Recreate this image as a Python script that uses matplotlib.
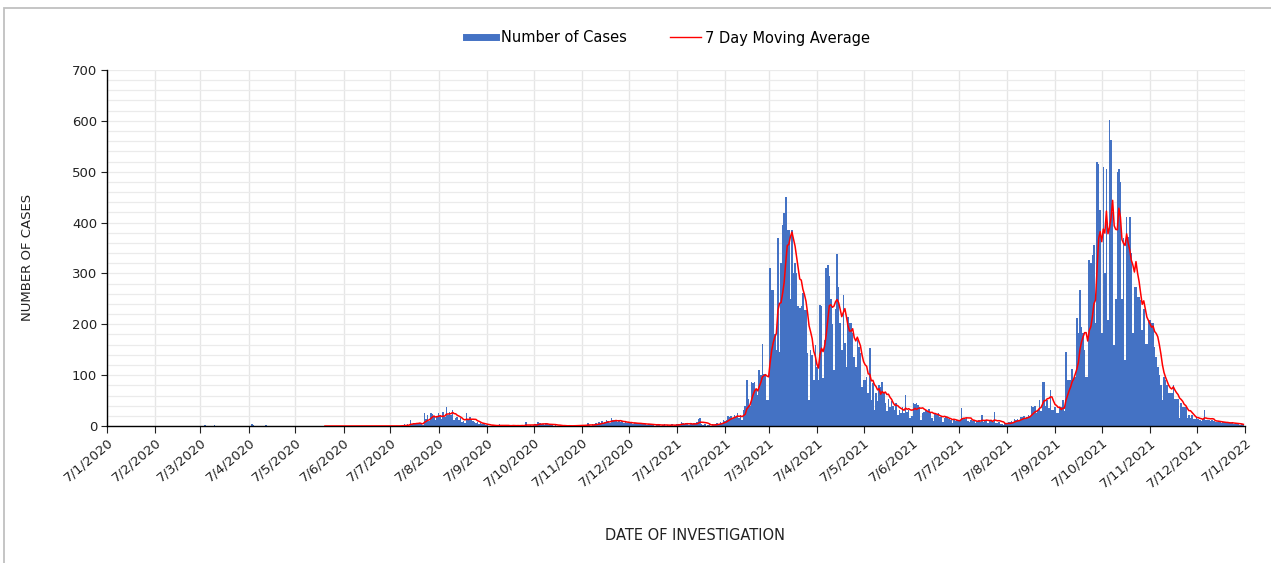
import matplotlib
matplotlib.use("Agg")
import matplotlib.pyplot as plt
import matplotlib.dates as mdates
from matplotlib.lines import Line2D
from matplotlib.patches import Rectangle
from matplotlib.ticker import MultipleLocator, FuncFormatter
import numpy as np
import pandas as pd

# daily cases, one list per month (7th of month -> 6th of next month)
start_date = "2020-01-07"
ma_start = "2020-05-26"

m2020_01 = [0, 0, 0, 0, 0, 0, 0, 0, 0, 0, 0, 0, 0, 0, 0, 0, 0, 0, 0, 0, 0, 0, 0, 0, 0, 0, 0, 0, 0, 0, 0]
m2020_02 = [0, 0, 0, 0, 0, 0, 0, 0, 0, 0, 0, 0, 0, 0, 0, 0, 0, 0, 0, 0, 0, 0, 0, 0, 0, 0, 0, 0, 0]
m2020_03 = [0, 0, 0, 2, 0, 0, 0, 0, 0, 2, 0, 0, 0, 0, 0, 0, 0, 0, 0, 0, 0, 0, 0, 1, 0, 0, 0, 0, 0, 0, 0]
m2020_04 = [0, 0, 3, 2, 0, 0, 0, 0, 0, 0, 0, 2, 0, 0, 0, 0, 0, 0, 0, 0, 0, 0, 0, 0, 0, 0, 0, 0, 0, 0]
m2020_05 = [0, 0, 0, 0, 0, 0, 0, 0, 0, 0, 0, 0, 0, 0, 0, 0, 0, 0, 0, 0, 0, 0, 0, 0, 0, 0, 0, 0, 0, 0, 0]
m2020_06 = [0, 0, 0, 0, 0, 0, 0, 0, 0, 0, 0, 0, 0, 0, 1, 0, 0, 0, 0, 0, 0, 0, 0, 0, 0, 0, 0, 1, 0, 0]
m2020_07 = [0, 0, 0, 0, 1, 0, 0, 1, 0, 3, 2, 4, 1, 12, 4, 5, 3, 6, 5, 6, 4, 2, 26, 14, 22, 10, 25, 24, 17, 12, 20]
m2020_08 = [25, 20, 14, 28, 18, 38, 22, 28, 22, 31, 12, 15, 18, 12, 16, 8, 10, 6, 25, 12, 18, 14, 9, 8, 5, 7, 4, 6, 3, 4, 2]
m2020_09 = [2, 1, 1, 0, 2, 1, 0, 1, 3, 1, 0, 1, 2, 0, 1, 0, 1, 2, 0, 1, 1, 0, 1, 2, 0, 8, 1, 0, 2, 1]
m2020_10 = [2, 4, 3, 8, 5, 3, 4, 2, 5, 3, 2, 4, 3, 1, 2, 1, 0, 1, 1, 0, 1, 0, 0, 1, 0, 1, 0, 2, 1, 2, 1]
m2020_11 = [2, 1, 2, 1, 5, 2, 1, 3, 2, 5, 4, 7, 6, 9, 5, 8, 12, 10, 6, 16, 11, 9, 12, 8, 11, 7, 9, 6, 8, 5]
m2020_12 = [7, 5, 8, 4, 6, 5, 3, 6, 4, 5, 3, 4, 2, 3, 4, 2, 3, 1, 2, 3, 2, 1, 2, 3, 1, 2, 1, 2, 3, 1, 2]
m2021_01 = [3, 4, 2, 8, 5, 3, 6, 4, 2, 5, 3, 6, 4, 7, 13, 15, 4, 2, 3, 1, 2, 3, 1, 4, 2, 3, 5, 4, 8, 6, 12]
m2021_02 = [10, 12, 20, 18, 20, 15, 22, 18, 25, 15, 22, 12, 31, 40, 90, 54, 40, 87, 85, 86, 71, 61, 110, 100,
            162, 103, 100, 51]
m2021_03 = [51, 310, 267, 267, 180, 149, 369, 146, 320, 395, 418, 451, 385, 385, 250, 385, 300, 320, 300, 235,
            233, 235, 261, 228, 228, 143, 51, 150, 140, 90, 160]
m2021_04 = [117, 90, 238, 235, 94, 169, 310, 317, 294, 250, 200, 110, 230, 339, 274, 202, 150, 258, 163, 117,
            215, 202, 202, 182, 136, 117, 169, 156, 143, 77]
m2021_05 = [90, 90, 97, 64, 153, 51, 84, 31, 64, 50, 81, 77, 87, 64, 45, 30, 54, 38, 50, 40, 31, 45, 22, 31,
            25, 38, 25, 61, 28, 31, 15]
m2021_06 = [20, 45, 43, 46, 41, 38, 12, 25, 27, 31, 30, 33, 28, 15, 10, 25, 22, 26, 18, 19, 8, 15, 18, 16,
            14, 12, 6, 12, 10, 11]
m2021_07 = [10, 12, 35, 15, 14, 16, 10, 8, 12, 9, 11, 6, 10, 12, 8, 22, 8, 10, 12, 6, 9, 11, 7, 28, 6, 5, 8,
            4, 3, 2, 5]
m2021_08 = [6, 8, 7, 9, 8, 13, 12, 14, 10, 18, 17, 19, 15, 18, 22, 20, 39, 38, 40, 25, 31, 51, 30, 87, 86,
            40, 51, 35, 71, 31, 31]
m2021_09 = [38, 25, 25, 38, 38, 51, 30, 146, 90, 90, 90, 113, 90, 97, 212, 182, 267, 195, 182, 150, 97, 97,
            326, 320, 336, 356, 202, 520, 516, 425]
m2021_10 = [182, 510, 300, 505, 208, 601, 562, 420, 160, 250, 500, 505, 480, 250, 370, 130, 410, 372, 411,
            340, 182, 274, 274, 254, 254, 248, 189, 230, 162, 162, 208]
m2021_11 = [208, 202, 202, 156, 136, 117, 100, 80, 51, 97, 90, 80, 64, 64, 64, 80, 54, 54, 54, 15, 45, 38, 38,
            38, 15, 22, 15, 22, 13, 13]
m2021_12 = [18, 13, 12, 10, 14, 31, 12, 11, 12, 9, 12, 10, 8, 7, 9, 8, 6, 8, 7, 5, 6, 5, 6, 8, 4, 5, 3, 4, 2,
            3, 2]

months = [m2020_01, m2020_02, m2020_03, m2020_04, m2020_05, m2020_06, m2020_07, m2020_08, m2020_09,
          m2020_10, m2020_11, m2020_12, m2021_01, m2021_02, m2021_03, m2021_04, m2021_05, m2021_06,
          m2021_07, m2021_08, m2021_09, m2021_10, m2021_11, m2021_12]
cases = [v for m in months for v in m]
dates = pd.date_range(start_date, periods=len(cases), freq="D")
s = pd.Series(cases, index=dates, dtype=float)
ma = s.rolling(7).mean()
ma[ma.index < pd.Timestamp(ma_start)] = np.nan

blue = "#4472C4"
red = "#FF0000"

fig = plt.figure(figsize=(12.71, 5.63), dpi=100)
ax = fig.add_axes([0.0842, 0.2433, 0.8953, 0.6324])

ax.bar(dates, s.values, width=1.0, color=blue, linewidth=0, zorder=2)
ax.plot(dates, ma.values, color=red, lw=1.1, zorder=3)

ax.set_xlim(pd.Timestamp("2020-01-07"), pd.Timestamp("2022-01-07"))
ax.set_ylim(0, 700)
ax.yaxis.set_major_locator(MultipleLocator(100))
ax.yaxis.set_minor_locator(MultipleLocator(20))
ax.xaxis.set_major_locator(mdates.MonthLocator(bymonthday=7))
ax.xaxis.set_major_formatter(FuncFormatter(
    lambda x, pos: "{d.day}/{d.month}/{d.year}".format(d=mdates.num2date(x))))

ax.grid(which="both", axis="y", color="#ebebeb", lw=0.9, zorder=0)
ax.grid(which="major", axis="x", color="#e6e6e6", lw=1.0, zorder=0)
ax.set_axisbelow(True)

for side in ["top", "right"]:
    ax.spines[side].set_visible(False)
for side in ["left", "bottom"]:
    ax.spines[side].set_color("black")
    ax.spines[side].set_linewidth(1.0)

ax.tick_params(axis="y", which="major", length=4, labelsize=9.5, colors="#222222", pad=3)
ax.tick_params(axis="y", which="minor", length=0)
ax.tick_params(axis="x", which="major", length=5, labelsize=9.5, colors="#222222", pad=2)
for lab in ax.get_xticklabels():
    lab.set_rotation(40)
    lab.set_ha("right")
    lab.set_rotation_mode("anchor")

fig.text(28 / 1271, 1 - 257 / 563, "NUMBER OF CASES", rotation=90, ha="center", va="center",
         fontsize=9.5, color="#222222")
fig.text(695 / 1271, 1 - 535 / 563, "DATE OF INVESTIGATION", ha="center", va="center",
         fontsize=10.5, color="#222222")

handles = [Line2D([], [], color=blue, lw=5), Line2D([], [], color=red, lw=1)]
fig.legend(handles, ["Number of Cases", "7 Day Moving Average"], loc="center",
           bbox_to_anchor=(668 / 1271, 1 - 38 / 563), ncol=2, frameon=False, fontsize=10.5,
           handlelength=2.1, handletextpad=0.3, columnspacing=3.0)

# outer frame of the figure box
fig.patches.append(Rectangle((4 / 1271, -0.05), 1.0, 0.9858 + 0.05, transform=fig.transFigure,
                             fill=False, edgecolor="#c0c0c0", lw=1.3))

fig.savefig("out.png", dpi=100)
